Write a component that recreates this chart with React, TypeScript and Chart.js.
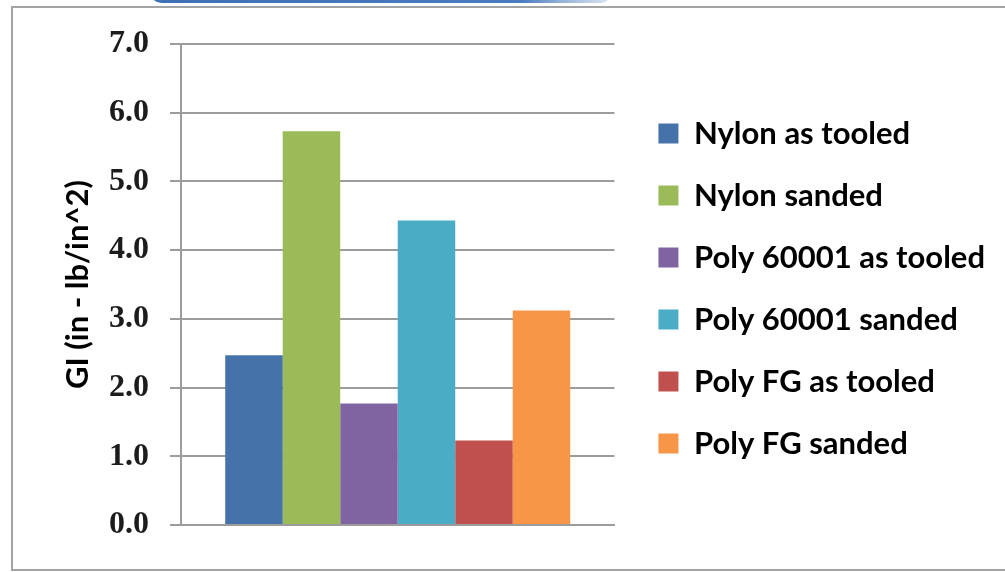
import React, { useEffect, useRef } from 'react';
import { Chart, registerables } from 'chart.js';

Chart.register(...registerables);

const categories = [''];
const seriesNames = [
  'Nylon as tooled',
  'Nylon sanded',
  'Poly 60001 as tooled',
  'Poly 60001 sanded',
  'Poly FG as tooled',
  'Poly FG sanded',
];
const seriesValues = [2.47, 5.73, 1.77, 4.43, 1.23, 3.12];
const seriesColors = ['#4672aa', '#9bbb59', '#8064a2', '#4bacc6', '#c0504d', '#f79646'];
const yMin = 0;
const yMax = 7;
const yStep = 1;
const yTitle = 'GI (in - lb/in^2)';

const GRID = '#9c9c9c';

const framePlugin = {
  id: 'frame',
  beforeDraw(chart: any) {
    const ctx = chart.ctx;
    ctx.save();
    ctx.fillStyle = '#ffffff';
    ctx.fillRect(0, 0, chart.width, chart.height);
    const g = ctx.createLinearGradient(150, 0, 615, 0);
    g.addColorStop(0, '#3f70b6');
    g.addColorStop(0.8, '#4a7cc0');
    g.addColorStop(1, 'rgba(210,222,240,0.7)');
    ctx.fillStyle = g;
    ctx.beginPath();
    ctx.roundRect(150, -20, 462, 23, 12);
    ctx.fill();
    ctx.strokeStyle = '#a3a3a3';
    ctx.lineWidth = 2;
    ctx.beginPath();
    ctx.moveTo(1005, 7);
    ctx.lineTo(12, 7);
    ctx.lineTo(12, 570);
    ctx.lineTo(1005, 570);
    ctx.stroke();
    ctx.restore();
  },
};

export default function App() {
  const ref = useRef<HTMLCanvasElement | null>(null);
  useEffect(() => {
    if (!ref.current) return;
    const chart = new Chart(ref.current, {
      type: 'bar',
      data: {
        labels: categories,
        datasets: seriesNames.map((name, i) => ({
          label: name,
          data: [seriesValues[i]],
          backgroundColor: seriesColors[i],
          borderWidth: 0,
          categoryPercentage: 0.796,
          barPercentage: 1,
        })),
      },
      options: {
        responsive: false,
        animation: false,
        layout: { padding: { left: 0, top: 44, right: 10, bottom: 39 } },
        plugins: {
          tooltip: { enabled: false },
          legend: {
            position: 'right',
            align: 'center',
            maxWidth: 500,
            labels: {
              boxWidth: 20,
              boxHeight: 20,
              padding: 31,
              color: '#000',
              font: { family: 'Lato', size: 31, weight: 'bold' },
            },
          },
        },
        scales: {
          x: {
            grid: { display: false },
            ticks: { display: false },
            border: { display: true, color: GRID, width: 2 },
          },
          y: {
            min: yMin,
            max: yMax,
            ticks: {
              stepSize: yStep,
              padding: 21,
              color: '#1c1c1c',
              font: { family: 'Liberation Serif', size: 32, weight: 'bold' },
              callback: (v: any) => Number(v).toFixed(1),
            },
            grid: { color: GRID, lineWidth: 2, tickLength: 11, drawTicks: true },
            border: { display: true, color: GRID, width: 2 },
            title: {
              display: true,
              text: yTitle,
              color: '#000',
              font: { family: 'Lato', size: 31, weight: 'bold' },
              padding: { top: 59, bottom: 0 },
            },
            afterFit(s: any) {
              s.width = 181;
            },
          },
          gap: {
            type: 'linear',
            position: 'right',
            display: true,
            grid: { display: false },
            ticks: { display: false },
            border: { display: false },
            afterFit(s: any) {
              s.width = 13;
            },
          },
        },
      } as any,
      plugins: [framePlugin],
    });
    return () => chart.destroy();
  }, []);
  return (
    <div style={{ position: 'fixed', left: 0, top: 0, width: 1005, height: 572 }}>
      <canvas ref={ref} width={1005} height={572} style={{ display: 'block' }} />
    </div>
  );
}
